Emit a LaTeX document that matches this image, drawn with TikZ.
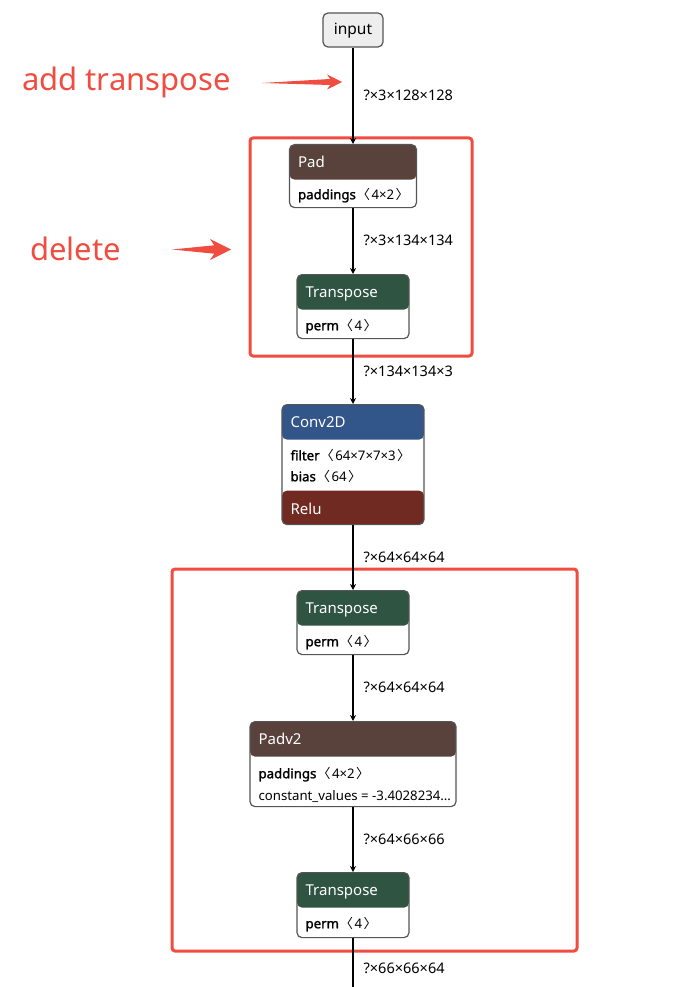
\documentclass[tikz,border=0pt]{standalone}
\usepackage{fontspec}
\setmainfont{Noto Sans}[AutoFakeBold=1.6]
\newfontfamily\cjk{Noto Sans CJK SC}
\usetikzlibrary{arrows.meta,calc}

\definecolor{padbrown}{HTML}{5A423C}
\definecolor{tpgreen}{HTML}{2F5442}
\definecolor{convblue}{HTML}{33568A}
\definecolor{relured}{HTML}{702A22}
\definecolor{opgray}{HTML}{555555}
\definecolor{annored}{HTML}{F04C40}
\definecolor{inputgray}{HTML}{EEEEEE}

\newcommand\dims[1]{\hspace{1pt}{\cjk 〈}\hspace{1.5pt}#1\hspace{1.5pt}{\cjk 〉}}
\newcommand\annoarrow[3]{%
	\fill[annored] (#2) -- ($(#3)+(-0.8*#1,-0.2*#1)$) -- ($(#3)+(-#1,-0.5*#1)$) -- (#3)
		-- ($(#3)+(-#1,0.5*#1)$) -- ($(#3)+(-0.8*#1,0.2*#1)$) -- cycle;}

\tikzset{
	op/.style={draw=opgray, line width=1.2pt, rounded corners=5pt, fill=white, anchor=north,
		inner sep=0pt, minimum width=#1},
	op/.default=112pt,
	head/.style={path picture={\fill[#1] (path picture bounding box.north west)
		rectangle ([yshift=-35pt]path picture bounding box.north east);}},
	convhead/.style={path picture={
		\fill[convblue] (path picture bounding box.north west)
			rectangle ([yshift=-35pt]path picture bounding box.north east);
		\fill[relured] (path picture bounding box.south west)
			rectangle ([yshift=34pt]path picture bounding box.south east);}},
	inp/.style={draw=opgray, fill=inputgray, line width=1.2pt, rounded corners=5pt,
		minimum width=60pt, minimum height=34pt, inner sep=0pt, font=\fontsize{15.5}{18}\selectfont,
		text height=12pt, text depth=2pt},
	ttl/.style={anchor=west, inner sep=0pt, yshift=-2pt, text=white, font=\fontsize{15}{18}\selectfont,
		text height=11pt, text depth=3pt},
	attr/.style={anchor=west, inner sep=0pt, yshift=-2pt, font=\fontsize{13.2}{16}\selectfont,
		text height=9.5pt, text depth=3pt},
	dimlbl/.style={anchor=west, xshift=10pt, yshift=-1pt, inner sep=0pt, font=\fontsize{14.5}{17}\selectfont,
		text height=10pt, text depth=3pt},
	flow/.style={draw=black, line width=1.3pt, -{Stealth[length=6pt,width=6pt]}},
	redbox/.style={draw=annored, line width=3pt, rounded corners=3pt},
	anno/.style={anchor=west, inner sep=0pt, text=annored, font=\fontsize{31}{37}\selectfont},
}

\begin{document}
\begin{tikzpicture}[x=1pt, y=-1pt]
	\useasboundingbox (0,0) rectangle (672,987);

	% marked regions
	\draw[redbox] (250,138) rectangle (472,356);
	\draw[redbox] (172,569) rectangle (577,951);

	% operators
	\node[inp] (input) at (353,30) {input};

	\node[op=127pt, minimum height=63pt, head=padbrown] (pad) at (353,144) {};
	\node[ttl] (padT) at ([xshift=9pt,yshift=-17.5pt]pad.north west) {Pad};
	\node[attr] (padA) at ([xshift=9pt,yshift=-50pt]pad.north west) {\textbf{paddings}\dims{4×2}};

	\node[op, minimum height=64pt, head=tpgreen] (tpa) at (353,274) {};
	\node[ttl] (tpaT) at ([xshift=9pt,yshift=-17.5pt]tpa.north west) {Transpose};
	\node[attr] (tpaA) at ([xshift=9pt,yshift=-51pt]tpa.north west) {\textbf{perm}\dims{4}};

	\node[op=142pt, minimum height=120pt, convhead] (conv) at (353,404) {};
	\node[ttl] (convT) at ([xshift=9pt,yshift=-17.5pt]conv.north west) {Conv2D};
	\node[attr] (convA) at ([xshift=9pt,yshift=-51pt]conv.north west) {\textbf{filter}\dims{64×7×7×3}};
	\node[attr] (convB) at ([xshift=9pt,yshift=-72pt]conv.north west) {\textbf{bias}\dims{64}};
	\node[ttl] (reluT) at ([xshift=9pt,yshift=17pt]conv.south west) {Relu};

	\node[op, minimum height=64pt, head=tpgreen] (tpb) at (353,590) {};
	\node[ttl] (tpbT) at ([xshift=9pt,yshift=-17.5pt]tpb.north west) {Transpose};
	\node[attr] (tpbA) at ([xshift=9pt,yshift=-51pt]tpb.north west) {\textbf{perm}\dims{4}};

	\node[op=206pt, minimum height=85pt, head=padbrown] (padv) at (353,721) {};
	\node[ttl] (padvT) at ([xshift=9pt,yshift=-17.5pt]padv.north west) {Padv2};
	\node[attr] (padvA) at ([xshift=9pt,yshift=-52pt]padv.north west) {\textbf{paddings}\dims{4×2}};
	\node[attr] (padvB) at ([xshift=9pt,yshift=-74pt]padv.north west) {constant\_values = -3.4028234...};

	\node[op, minimum height=65pt, head=tpgreen] (tpc) at (353,872) {};
	\node[ttl] (tpcT) at ([xshift=9pt,yshift=-17.5pt]tpc.north west) {Transpose};
	\node[attr] (tpcA) at ([xshift=9pt,yshift=-51pt]tpc.north west) {\textbf{perm}\dims{4}};

	\coordinate (out) at (353,987);

	% tensors
	\draw[flow] (input) -- node[dimlbl]{?×3×128×128} (pad);
	\draw[flow] (pad) -- node[dimlbl]{?×3×134×134} (tpa);
	\draw[flow] (tpa) -- node[dimlbl]{?×134×134×3} (conv);
	\draw[flow] (conv) -- node[dimlbl]{?×64×64×64} (tpb);
	\draw[flow] (tpb) -- node[dimlbl]{?×64×64×64} (padv);
	\draw[flow] (padv) -- node[dimlbl]{?×64×66×66} (tpc);
	\draw[flow, -] (tpc) -- node[dimlbl, pos=0.64]{?×66×66×64} (out);

	% notes
	\node[anno] (addlbl) at (22,82) {add transpose};
	\coordinate (addtail) at (262,83);
	\coordinate (addtip) at (342,82);
	\annoarrow{15}{addtail}{addtip}

	\node[anno] (dellbl) at (30,249) {delete};
	\coordinate (deltail) at (172,249.5);
	\coordinate (deltip) at (231,249.5);
	\annoarrow{21}{deltail}{deltip}
\end{tikzpicture}
\end{document}
